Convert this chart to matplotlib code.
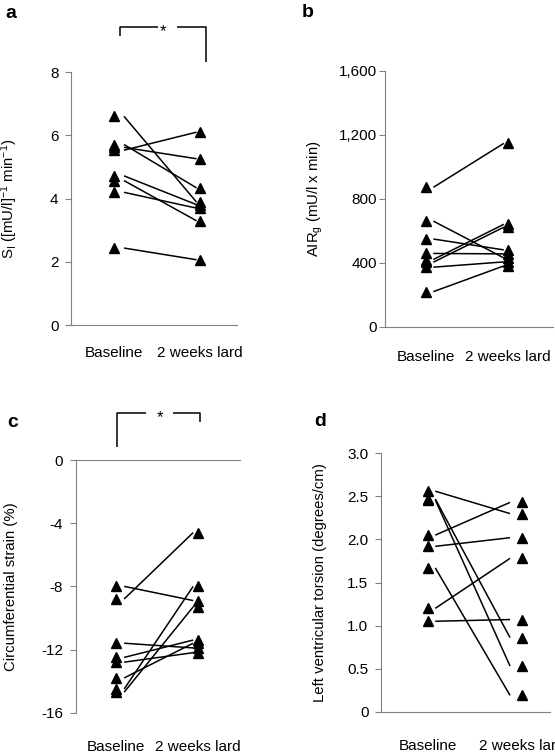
import numpy as np
import matplotlib
matplotlib.use('Agg')
import matplotlib.pyplot as plt

plt.rcParams['font.family'] = ['Liberation Sans', 'DejaVu Sans']
plt.rcParams['font.size'] = 11
plt.rcParams['mathtext.fontset'] = 'custom'
plt.rcParams['mathtext.rm'] = 'Liberation Sans'
plt.rcParams['mathtext.it'] = 'Liberation Sans:italic'

groups = ['Baseline', '2 weeks lard']

# a: insulin sensitivity
si_base = [6.60, 5.71, 5.62, 5.53, 4.72, 4.57, 4.20, 2.44]
si_lard = [3.89, 4.34, 5.26, 6.10, 3.81, 3.30, 3.70, 2.07]

# b: acute insulin response
air_base = [871, 660, 548, 458, 420, 403, 372, 219]
air_lard = [1146, 430, 480, 455, 640, 622, 405, 380]

# c: circumferential strain
strain_base = [-8.8, -8.0, -11.6, -12.5, -12.8, -13.8, -14.5, -14.7]
strain_lard = [-4.6, -8.9, -11.9, -11.4, -12.2, -11.6, -8.0, -9.3]

# d: LV torsion
torsion_base = [2.56, 2.47, 2.46, 2.05, 1.92, 1.67, 1.20, 1.05]
torsion_lard = [2.30, 0.86, 0.53, 2.43, 2.02, 0.19, 1.78, 1.07]

W, H = 555, 756
GREY = '#808080'


def box(left, top, right, bottom):
    return [left / W, 1 - bottom / H, (right - left) / W, (bottom - top) / H]


def panel(ax, base, lard, ylim, yticks, ylabels, ylabel, xlim, line_x,
          xpad, ypad, label_x, strain=False):
    for b, l in zip(base, lard):
        ax.plot(line_x, [b, l], color='black', lw=1.1, solid_capstyle='butt')
    ax.plot(np.zeros(len(base)), base, '^', color='black', ms=6.5, clip_on=False)
    ax.plot(np.ones(len(lard)), lard, '^', color='black', ms=6.5, clip_on=False)
    ax.set_xlim(xlim)
    ax.set_ylim(ylim)
    ax.set_yticks(yticks)
    ax.set_yticklabels(ylabels)
    ax.set_xticks([0, 1])
    ax.set_xticklabels(groups)
    ax.tick_params(axis='x', length=0, pad=xpad)
    ax.tick_params(axis='y', direction='out', length=4, width=0.8,
                   color=GREY, pad=ypad)
    ax.spines['right'].set_visible(False)
    if strain:
        ax.spines['bottom'].set_visible(False)
    else:
        ax.spines['top'].set_visible(False)
    for s in ax.spines.values():
        s.set_color(GREY)
        s.set_linewidth(0.8)
    ax.set_ylabel(ylabel, fontsize=10.7)
    ax.yaxis.set_label_coords(label_x, 0.5)


fig = plt.figure(figsize=(W / 100, H / 100), dpi=100)

ax_a = fig.add_axes(box(71, 72, 237, 325.3))
panel(ax_a, si_base, si_lard, (0, 8), [0, 2, 4, 6, 8], ['0', '2', '4', '6', '8'],
      r'S$_\mathrm{I}$ ([mU/l]$^{-1}$ min$^{-1}$)', (-0.5, 1.43), [0.116, 0.96],
      15, 5, -0.305)

ax_b = fig.add_axes(box(385, 70.7, 553, 326.7))
panel(ax_b, air_base, air_lard, (0, 1600), [0, 400, 800, 1200, 1600],
      ['0', '400', '800', '1,200', '1,600'],
      r'AIR$_\mathrm{g}$ (mU/l x min)', (-0.5, 1.55), [0.09, 0.95],
      17, 1.5, -0.357)

ax_c = fig.add_axes(box(75.7, 460, 240, 712.7))
panel(ax_c, strain_base, strain_lard, (-16, 0), [-16, -12, -8, -4, 0],
      ['-16', '-12', '-8', '-4', '0'],
      'Circumferential strain (%)', (-0.49, 1.51), [0.10, 0.94],
      20, 5, -0.351, strain=True)

ax_d = fig.add_axes(box(381, 453.3, 550, 711.7))
panel(ax_d, torsion_base, torsion_lard, (0, 3), [0, 0.5, 1, 1.5, 2, 2.5, 3],
      ['0', '0.5', '1.0', '1.5', '2.0', '2.5', '3.0'],
      'Left ventricular torsion (degrees/cm)', (-0.497, 1.30), [0.08, 0.875],
      20, 5, -0.32)

# significance brackets
kw = dict(color='black', lw=1.1, clip_on=False, solid_capstyle='butt')
ax_a.plot([0.07, 0.07, 0.51], [9.15, 9.43, 9.43], **kw)
ax_a.plot([0.73, 1.07, 1.07], [9.43, 9.43, 8.33], **kw)
ax_a.text(0.575, 9.12, '*', ha='center', va='baseline', fontsize=12)

ax_c.plot([0.01, 0.01, 0.37], [0.80, 3.0, 3.0], **kw)
ax_c.plot([0.69, 1.02, 1.02], [3.0, 3.0, 2.39], **kw)
ax_c.text(0.54, 2.40, '*', ha='center', va='baseline', fontsize=12)

# panel letters
for txt, x, y in [('a', 5, 13), ('b', 302, 12.5), ('c', 7, 422), ('d', 314, 421)]:
    fig.text(x / W, 1 - y / H, txt, fontsize=14, fontweight='bold',
             ha='left', va='center')

fig.savefig('out.png', dpi=100)
